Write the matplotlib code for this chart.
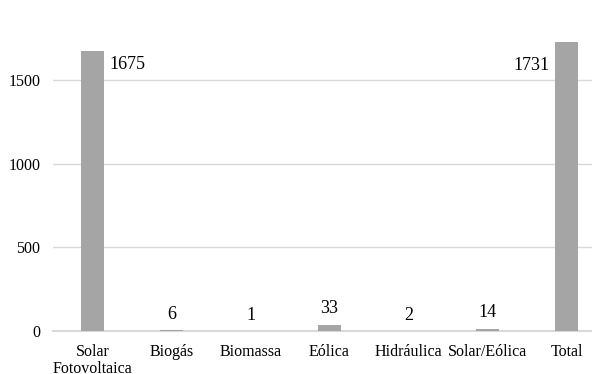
import matplotlib.pyplot as plt

categories = ["Solar\nFotovoltaica", "Biogás", "Biomassa", "Eólica",
              "Hidráulica", "Solar/Eólica", "Total"]
values = [1675, 6, 1, 33, 2, 14, 1731]
yticks = [0, 500, 1000, 1500]

# label placement per bar: (horizontal alignment, dx px, dy px)
label_pos = [("left", 17, -14), ("center", 0, 15), ("center", 0, 15),
             ("center", 0, 17), ("center", 0, 15), ("center", 0, 16),
             ("right", -17, -24)]

plt.rcParams["font.family"] = ["Liberation Serif", "DejaVu Serif"]

fig = plt.figure(figsize=(5.92, 3.74), dpi=100)
ax = fig.add_axes([53 / 592, 43 / 374, 553 / 592, 301 / 374])

x = range(len(categories))
ax.bar(x, values, width=0.28, color="#a5a5a5", zorder=3)

ax.set_xlim(-0.5, len(categories) - 0.5)
ax.set_ylim(0, 1800)
ax.set_yticks(yticks)
ax.set_xticks(list(x))
ax.set_xticklabels(categories, fontsize=11.5, va="top", linespacing=1.15)
ax.tick_params(axis="y", length=0, pad=9, labelsize=11.5)
ax.tick_params(axis="x", length=0, pad=9)

ax.grid(axis="y", color="#d9d9d9", linewidth=1, zorder=0)
for s in ["top", "right", "left"]:
    ax.spines[s].set_visible(False)
ax.spines["bottom"].set_color("#d9d9d9")
ax.spines["bottom"].set_linewidth(1.5)

for i, v in enumerate(values):
    ha, dx, dy = label_pos[i]
    ax.annotate(str(v), (i, v), xytext=(dx * 0.72, dy * 0.72),
                textcoords="offset points", ha=ha, va="center", fontsize=13)

fig.savefig("out.png", dpi=100)
